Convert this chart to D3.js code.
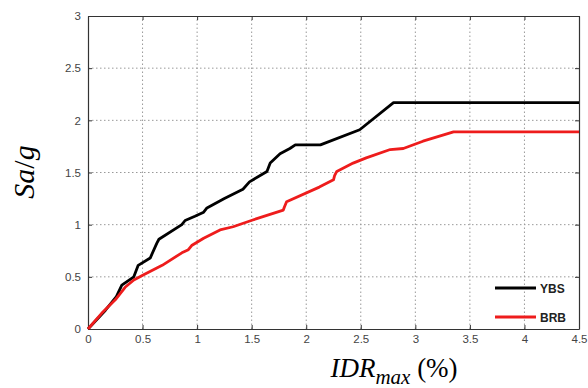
<!DOCTYPE html>
<html>
<head>
<meta charset="utf-8">
<script src="https://cdn.jsdelivr.net/npm/d3@7"></script>
<style>
  body { margin: 0; background: #fff; }
  svg { display: block; }
  .tick text { font-family: "Liberation Sans", Arial, sans-serif; font-size: 11.5px; fill: #444; }
</style>
</head>
<body>
<div id="chart"></div>
<script>
// values (IDR max in %, Sa/g)
var ybsX = [0, 0.16, 0.26, 0.31, 0.42, 0.46, 0.57, 0.63, 0.65, 0.86, 0.89, 0.98, 1.06, 1.09, 1.25, 1.42, 1.48, 1.64, 1.67, 1.76, 1.85, 1.90, 2.13, 2.49, 2.80, 4.5];
var ybsY = [0, 0.18, 0.31, 0.42, 0.50, 0.61, 0.68, 0.82, 0.86, 1.00, 1.04, 1.08, 1.12, 1.16, 1.25, 1.34, 1.41, 1.51, 1.59, 1.68, 1.73, 1.765, 1.765, 1.91, 2.17, 2.17];

var brbX = [0, 0.125, 0.25, 0.34, 0.42, 0.51, 0.68, 0.86, 0.92, 0.95, 1.06, 1.21, 1.33, 1.51, 1.79, 1.80, 1.82, 2.12, 2.25, 2.26, 2.28, 2.43, 2.55, 2.77, 2.89, 3.07, 3.35, 4.5];
var brbY = [0, 0.15, 0.28, 0.40, 0.47, 0.52, 0.61, 0.73, 0.76, 0.80, 0.87, 0.95, 0.98, 1.045, 1.14, 1.17, 1.22, 1.36, 1.43, 1.47, 1.51, 1.59, 1.64, 1.72, 1.73, 1.80, 1.89, 1.89];

var xTicks = [0, 0.5, 1, 1.5, 2, 2.5, 3, 3.5, 4, 4.5];
var yTicks = [0, 0.5, 1, 1.5, 2, 2.5, 3];
var seriesNames = ["YBS", "BRB"];
var seriesColors = ["#000000", "#ee1c1c"];

var W = 588, H = 388;
var m = {left: 88, right: 9, top: 16, bottom: 59};

var svg = d3.select("#chart").append("svg").attr("width", W).attr("height", H);

var x = d3.scaleLinear().domain([0, 4.5]).range([m.left, W - m.right]);
var y = d3.scaleLinear().domain([0, 3]).range([H - m.bottom, m.top]);

// dotted grid
svg.append("g").selectAll("line").data(xTicks.slice(1, -1)).enter().append("line")
  .attr("x1", d => x(d)).attr("x2", d => x(d))
  .attr("y1", y(0)).attr("y2", y(3))
  .attr("stroke", "#999").attr("stroke-width", 1).attr("stroke-dasharray", "1.5,2.5");
svg.append("g").selectAll("line").data(yTicks.slice(1, -1)).enter().append("line")
  .attr("y1", d => y(d)).attr("y2", d => y(d))
  .attr("x1", x(0)).attr("x2", x(4.5))
  .attr("stroke", "#999").attr("stroke-width", 1).attr("stroke-dasharray", "1.5,2.5");

// axes, matlab style ticks pointing inwards
var fmt = d => String(d);
svg.append("g").attr("transform", "translate(0," + y(0) + ")")
  .call(d3.axisBottom(x).tickValues(xTicks).tickFormat(fmt).tickSizeInner(-4).tickSizeOuter(0).tickPadding(6));
svg.append("g").attr("transform", "translate(" + x(0) + ",0)")
  .call(d3.axisLeft(y).tickValues(yTicks).tickFormat(fmt).tickSizeInner(-4).tickSizeOuter(0).tickPadding(7));
svg.append("g").attr("transform", "translate(0," + y(3) + ")")
  .call(d3.axisTop(x).tickValues(xTicks).tickFormat("").tickSizeInner(-4).tickSizeOuter(0));
svg.append("g").attr("transform", "translate(" + x(4.5) + ",0)")
  .call(d3.axisRight(y).tickValues(yTicks).tickFormat("").tickSizeInner(-4).tickSizeOuter(0));
svg.selectAll(".domain").attr("stroke", "#333").attr("stroke-width", 1.2);
svg.selectAll(".tick line").attr("stroke", "#333");

// curves
var line = d3.line().x(d => x(d[0])).y(d => y(d[1]));
var series = [d3.zip(ybsX, ybsY), d3.zip(brbX, brbY)];
svg.append("g").selectAll("path").data(series).enter().append("path")
  .attr("d", line)
  .attr("fill", "none")
  .attr("stroke", (d, i) => seriesColors[i])
  .attr("stroke-width", 2.8)
  .attr("stroke-linejoin", "round");

// legend (no box)
var leg = svg.append("g");
seriesNames.forEach(function(name, i) {
  var ly = 288 + i * 29;
  leg.append("line").attr("x1", 495).attr("x2", 536).attr("y1", ly).attr("y2", ly)
    .attr("stroke", seriesColors[i]).attr("stroke-width", 2.8);
  leg.append("text").attr("x", 540).attr("y", ly + 4.5).text(name)
    .attr("font-family", "Liberation Sans, Arial, sans-serif").attr("font-weight", "bold")
    .attr("font-size", 12).attr("fill", "#222");
});

// axis titles
var yt = svg.append("text")
  .attr("transform", "translate(34,172) rotate(-90)")
  .attr("text-anchor", "middle")
  .attr("font-family", "Liberation Serif, Times New Roman, serif")
  .attr("font-size", 30).attr("fill", "#000");
yt.append("tspan").attr("font-style", "italic").text("Sa");
yt.append("tspan").text("/");
yt.append("tspan").attr("font-style", "italic").text("g");

var xt = svg.append("text")
  .attr("x", 394).attr("y", 377)
  .attr("text-anchor", "middle")
  .attr("font-family", "Liberation Serif, Times New Roman, serif")
  .attr("font-size", 27).attr("fill", "#000");
xt.append("tspan").attr("font-style", "italic").text("IDR");
xt.append("tspan").attr("font-style", "italic").attr("font-size", 21).attr("dy", 7).text("max");
xt.append("tspan").attr("dy", -7).text(" (%)");
</script>
</body>
</html>
